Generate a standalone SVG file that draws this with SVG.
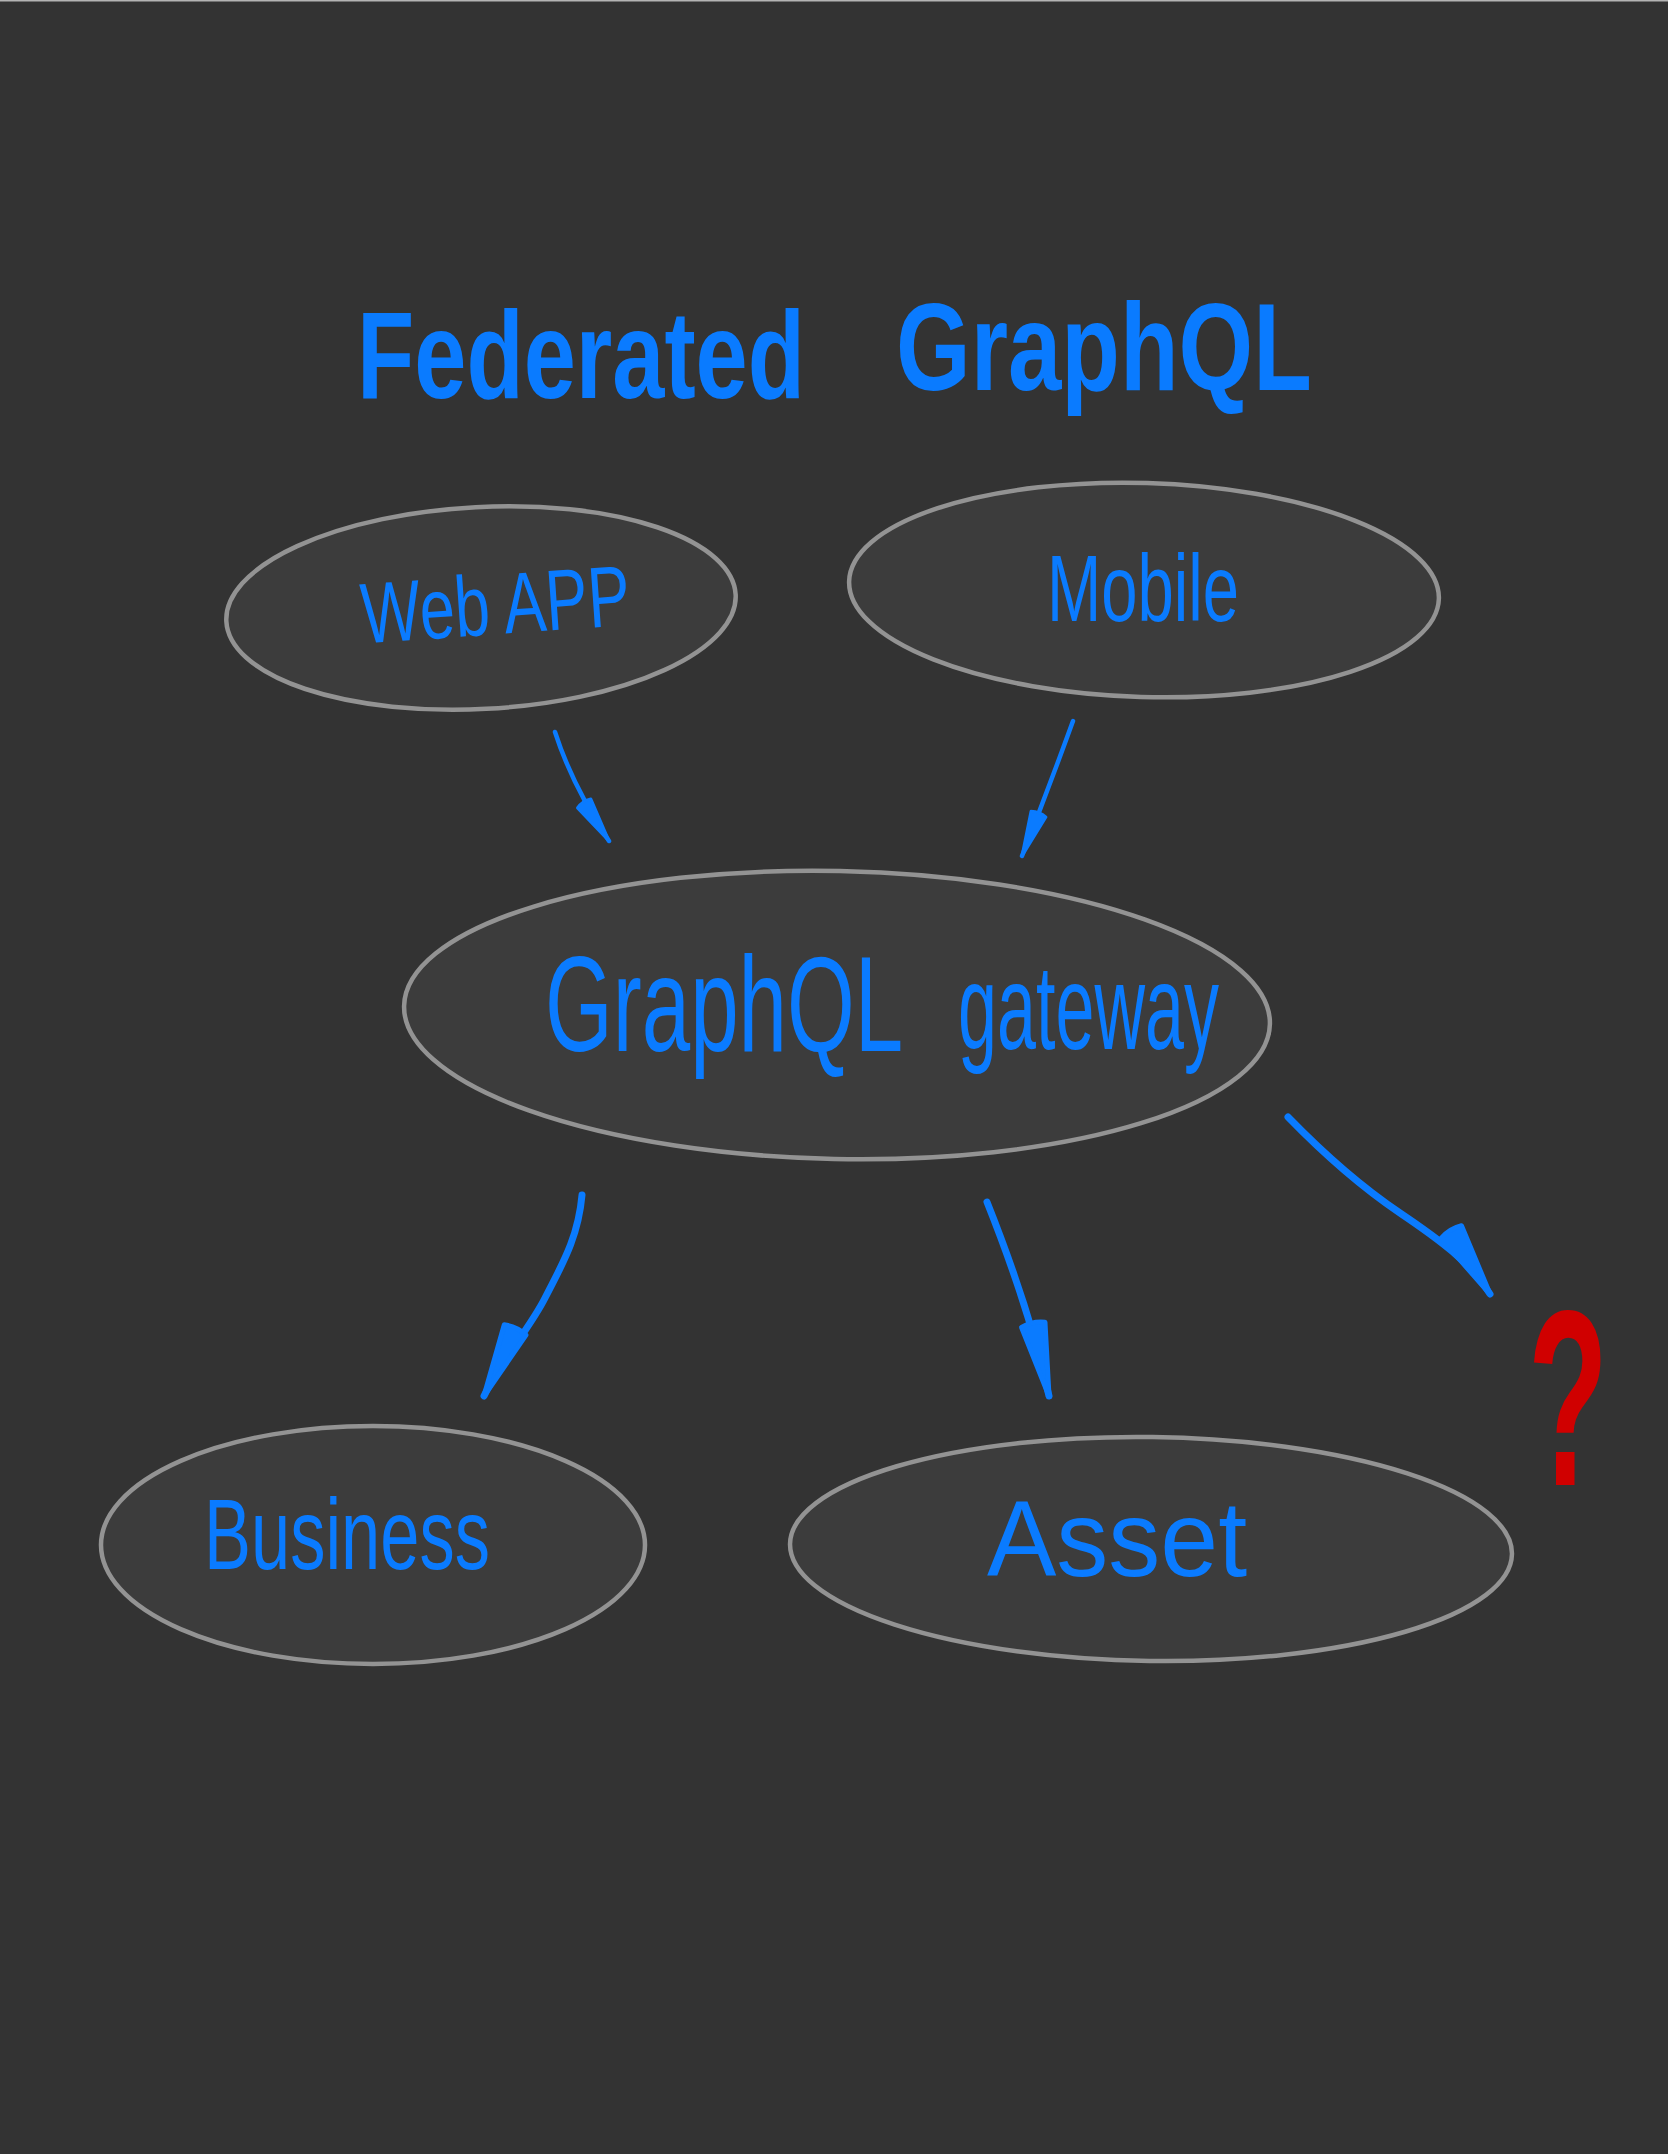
<svg xmlns="http://www.w3.org/2000/svg" width="1668" height="2154" viewBox="0 0 1668 2154">
  <defs>
    <style>
      .node { fill: #3c3c3c; stroke: #939393; stroke-width: 4.5; }
      .lbl { font-family: "Liberation Sans", Arial, sans-serif; fill: #0a7bff; }
      .title { font-family: "Liberation Sans", Arial, sans-serif; font-weight: bold; fill: #0a7bff; }
      .edge { fill: none; stroke: #0a7bff; stroke-linecap: round; }
    </style>
    <marker id="headL" viewBox="0 0 80 32" refX="77" refY="16" markerWidth="80" markerHeight="32" markerUnits="userSpaceOnUse" orient="auto" overflow="visible">
      <path d="M4,4 L77,16 L4,28 Q0,16 4,4 Z" fill="#0a7bff" stroke="#0a7bff" stroke-width="5" stroke-linejoin="round"/>
    </marker>
    <marker id="headS" viewBox="0 0 50 22" refX="48" refY="11" markerWidth="50" markerHeight="22" markerUnits="userSpaceOnUse" orient="auto" overflow="visible">
      <path d="M3,3 L48,11 L3,19 Q0,11 3,3 Z" fill="#0a7bff" stroke="#0a7bff" stroke-width="3" stroke-linejoin="round"/>
    </marker>
  </defs>

  <rect x="0" y="0" width="1668" height="2154" fill="#333333"/>
  <rect x="0" y="0" width="1668" height="1.5" fill="#b4b4b4"/>

  <g id="title">
    <text class="title" font-size="124" transform="translate(357 398) scale(0.756 1)">Federated</text>
    <text class="title" font-size="124" transform="translate(896 390) scale(0.774 1)">GraphQL</text>
  </g>

  <g id="connectors">
    <path class="edge" stroke-width="4.5" d="M555,732 Q572,785 609,841" marker-end="url(#headS)"/>
    <path class="edge" stroke-width="4.5" d="M1073,721 Q1048,790 1022,856" marker-end="url(#headS)"/>
    <path class="edge" stroke-width="7" d="M582,1195 C578,1240 560,1268 545,1298 S500,1362 484,1396" marker-end="url(#headL)"/>
    <path class="edge" stroke-width="7" d="M987,1202 Q1030,1310 1049,1396" marker-end="url(#headL)"/>
    <path class="edge" stroke-width="7" d="M1288,1117 C1322,1152 1360,1186 1400,1213 S1470,1262 1490,1294" marker-end="url(#headL)"/>
  </g>

  <g id="node-webapp">
    <ellipse class="node" cx="481" cy="608" rx="255" ry="101" transform="rotate(-3 481 608)"/>
    <text class="lbl" font-size="86" transform="rotate(-4 498 610) translate(361 634) scale(0.735 1)">Web APP</text>
  </g>

  <g id="node-mobile">
    <ellipse class="node" cx="1144" cy="590" rx="295" ry="107" transform="rotate(1.7 1144 590)"/>
    <text class="lbl" font-size="95" transform="translate(1047 621) scale(0.686 1)">Mobile</text>
  </g>

  <g id="node-gateway">
    <ellipse class="node" cx="837" cy="1015" rx="433" ry="144" transform="rotate(1.2 837 1015)"/>
    <text class="lbl" font-size="135" transform="translate(545 1051) scale(0.645 1)">GraphQL</text>
    <text class="lbl" font-size="120" transform="translate(958 1049) scale(0.584 1)">gateway</text>
  </g>

  <g id="node-business">
    <ellipse class="node" cx="373" cy="1545" rx="272" ry="119"/>
    <text class="lbl" font-size="100" transform="translate(204 1569) scale(0.705 1)">Business</text>
  </g>

  <g id="node-asset">
    <ellipse class="node" cx="1151" cy="1549" rx="361" ry="112" transform="rotate(0.8 1151 1549)"/>
    <text class="lbl" font-size="108" transform="translate(987 1576) scale(0.963 1)">Asset</text>
  </g>

  <g id="question">
    <text font-family="Liberation Sans, Arial, sans-serif" font-weight="bold" font-size="250" fill="#d00000" transform="translate(1528 1485) scale(0.524 1)">?</text>
  </g>
</svg>
